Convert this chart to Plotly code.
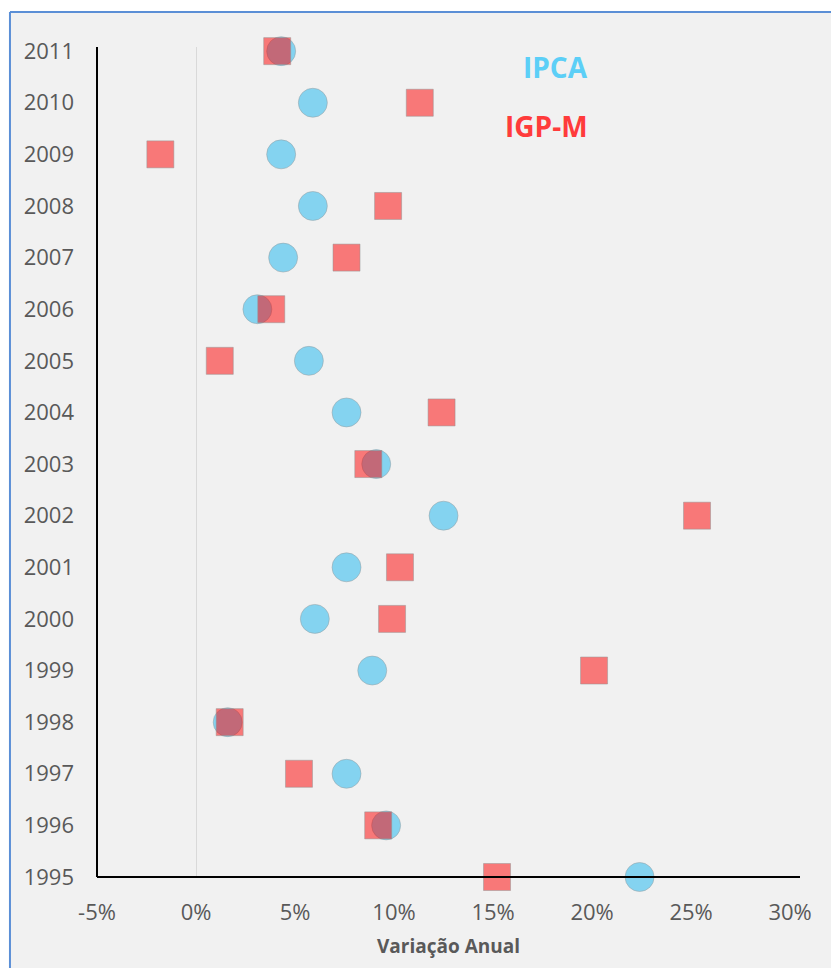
import plotly.graph_objects as go

years = [2011, 2010, 2009, 2008, 2007, 2006, 2005, 2004, 2003, 2002, 2001, 2000, 1999, 1998, 1997, 1996, 1995]
ipca = [4.3, 5.9, 4.3, 5.9, 4.4, 3.1, 5.7, 7.6, 9.1, 12.5, 7.6, 6.0, 8.9, 1.6, 7.6, 9.6, 22.4]
igpm = [4.1, 11.3, -1.8, 9.7, 7.6, 3.8, 1.2, 12.4, 8.7, 25.3, 10.3, 9.9, 20.1, 1.7, 5.2, 9.2, 15.2]

x_ticks = [-5, 0, 5, 10, 15, 20, 25, 30]
x_tick_labels = ["-5%", "0%", "5%", "10%", "15%", "20%", "25%", "30%"]
y_ticks = list(range(1995, 2012))

font = "Open Sans"
grey = "#595959"
bg = "#f1f1f1"

fig = go.Figure()
fig.add_trace(go.Scatter(
    x=ipca, y=years, mode="markers", name="IPCA", cliponaxis=False,
    marker=dict(symbol="circle", size=29, color="rgba(0,176,240,0.45)",
                line=dict(color="rgba(150,150,150,0.45)", width=1)),
))
fig.add_trace(go.Scatter(
    x=igpm, y=years, mode="markers", name="IGP-M", cliponaxis=False,
    marker=dict(symbol="square", size=27, color="rgba(255,0,0,0.5)",
                line=dict(color="rgba(150,150,150,0.5)", width=1)),
))

fig.update_layout(
    width=831, height=968,
    margin=dict(l=97, r=31, t=47, b=91),
    paper_bgcolor=bg, plot_bgcolor=bg,
    showlegend=False,
    font=dict(family=font, color=grey),
    xaxis=dict(
        range=[-5, 30.5], tickvals=x_ticks, ticktext=x_tick_labels,
        showgrid=False, zeroline=True, zerolinecolor="#d9d9d9", zerolinewidth=1,
        showline=False, ticks="", ticklabelstandoff=20,
        tickfont=dict(size=22, color=grey, family=font),
        title=dict(text="<b>Variação Anual</b>", font=dict(size=19, color=grey, family=font), standoff=14),
    ),
    yaxis=dict(
        range=[1995, 2011.08], tickvals=y_ticks, showgrid=False, zeroline=False,
        showline=False, ticks="", ticklabelstandoff=22,
        tickfont=dict(size=22, color=grey, family=font),
    ),
    shapes=[
        dict(type="line", xref="paper", yref="paper", x0=0, x1=0, y0=0, y1=1,
             line=dict(color="black", width=2), layer="above"),
        dict(type="line", xref="paper", yref="paper", x0=0, x1=1, y0=0, y1=0,
             line=dict(color="black", width=2), layer="above"),
        dict(type="rect", xref="paper", yref="paper", x0=-0.2, x1=1.2, y0=1.0422, y1=1.2,
             fillcolor="white", line=dict(width=0), layer="above"),
        dict(type="rect", xref="paper", yref="paper", x0=-0.2, x1=-0.1238, y0=-0.2, y1=1.2,
             fillcolor="white", line=dict(width=0), layer="above"),
        dict(type="line", xref="paper", yref="paper", x0=-0.1238, x1=1.2, y0=1.0422, y1=1.0422,
             line=dict(color="#5b8fd6", width=2), layer="above"),
        dict(type="line", xref="paper", yref="paper", x0=-0.1238, x1=-0.1238, y0=-0.2, y1=1.0422,
             line=dict(color="#5b8fd6", width=2), layer="above"),
    ],
    annotations=[
        dict(text="<b>IPCA</b>", xref="paper", yref="paper", x=(590 - 97) / 703, y=(877 - 67) / 830,
             xanchor="right", yanchor="middle", showarrow=False,
             font=dict(size=28, color="#5ccff7", family=font)),
        dict(text="<b>IGP-M</b>", xref="paper", yref="paper", x=(590 - 97) / 703, y=(877 - 126) / 830,
             xanchor="right", yanchor="middle", showarrow=False,
             font=dict(size=28, color="#ff3b3b", family=font)),
    ],
)

fig.write_html(
    "out.html",
    config={"displayModeBar": False},
    post_script="document.body.style.margin='0';document.body.style.overflow='hidden';",
)
